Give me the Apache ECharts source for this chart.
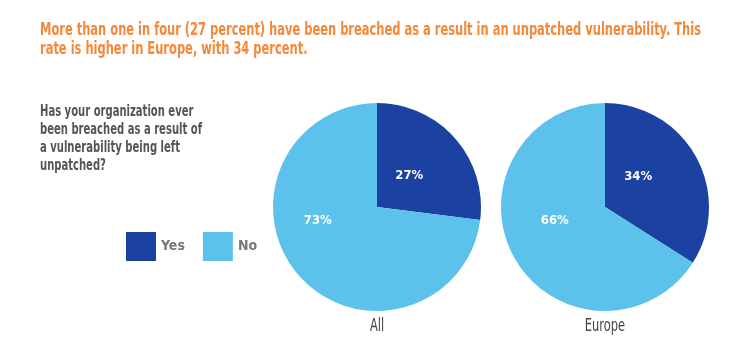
<!DOCTYPE html>
<html><head><meta charset="utf-8">
<script src="https://cdn.jsdelivr.net/npm/echarts@6/dist/echarts.min.js"></script>
<style>html,body{margin:0;padding:0;background:#fff}#c{width:753px;height:360px}</style>
</head><body><div id="c"></div>
<script>
const headline = ['More than one in four (27 percent) have been breached as a result in an unpatched vulnerability. This', 'rate is higher in Europe, with 34 percent.'];
const questionLines = ['Has your organization ever', 'been breached as a result of', 'a vulnerability being left', 'unpatched?'];
const categories = ['Yes', 'No'];
const groups = ['All', 'Europe'];
const valuesAll = [27, 73];
const valuesEurope = [34, 66];

const FONT = '"DejaVu Sans Condensed", "DejaVu Sans", sans-serif';
const colors = ['#1b42a0', '#5cc2ec'];
const centers = [[377, 207], [605, 207]];
const labelOffsets = [[[-9, 5], [-18, -23]], [[-15, -4], [-2, -13]]];

const mctx = document.createElement('canvas').getContext('2d');
function measure(text, size, weight) {
  mctx.font = weight + ' ' + size + 'px ' + FONT;
  return mctx.measureText(text).width;
}
// horizontal squeeze so the condensed look of the original is kept
const titleScale = 661 / measure(headline[0], 18, 'bold');
const questionScale = 162 / measure(questionLines[1], 16, 'bold');
const LABEL_SCALE = 0.75;

function pieSeries(vals, idx) {
  return {
    type: 'pie', name: groups[idx], center: centers[idx], radius: 104,
    startAngle: 90, clockwise: true, silent: true,
    label: { show: true, position: 'inside', formatter: '{c}%', color: '#fff',
      fontFamily: FONT, fontWeight: 'bold', fontSize: 13 },
    labelLine: { show: false },
    itemStyle: { borderWidth: 0 },
    data: categories.map((c, i) => ({ name: c, value: vals[i], itemStyle: { color: colors[i] },
      label: { offset: labelOffsets[idx][i] } }))
  };
}

const graphics = [];
headline.forEach((t, i) => graphics.push({
  type: 'text', x: 40, y: 30 + i * 19, scaleX: titleScale, silent: true,
  style: { text: t, fill: '#f5883a', font: 'bold 18px ' + FONT, textVerticalAlign: 'middle' }
}));
questionLines.forEach((t, i) => graphics.push({
  type: 'text', x: 40, y: 112 + i * 18, scaleX: questionScale, silent: true,
  style: { text: t, fill: '#555', font: 'bold 16px ' + FONT, textVerticalAlign: 'middle' }
}));
groups.forEach((g, i) => graphics.push({
  type: 'text', x: centers[i][0], y: 327, scaleX: LABEL_SCALE, silent: true,
  style: { text: g, fill: '#444', font: '17px ' + FONT, textAlign: 'center', textVerticalAlign: 'middle' }
}));

const chart = echarts.init(document.getElementById('c'));
chart.setOption({
  animation: false,
  graphic: graphics,
  legend: {
    data: categories, left: 126, top: 232, orient: 'horizontal', padding: 0,
    itemWidth: 30, itemHeight: 29, itemGap: 18, icon: 'rect',
    selectedMode: false,
    textStyle: { color: '#777', fontFamily: FONT, fontWeight: 'bold', fontSize: 14 }
  },
  series: [pieSeries(valuesAll, 0), pieSeries(valuesEurope, 1)]
});
</script></body></html>
